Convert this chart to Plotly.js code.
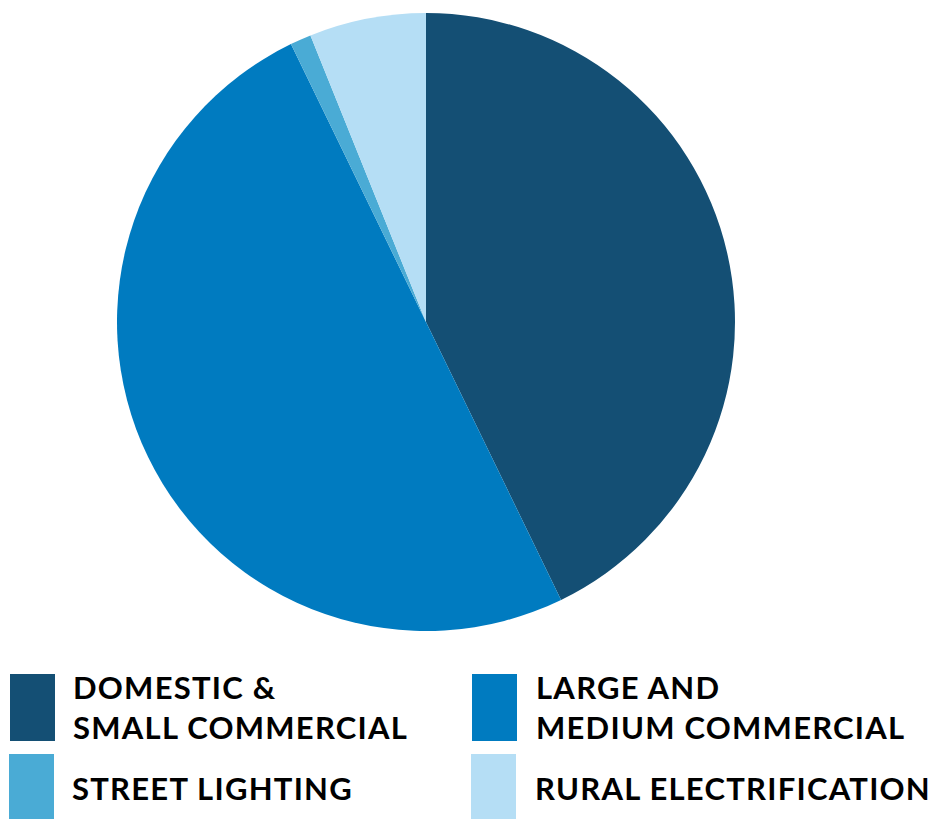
<!DOCTYPE html>
<html>
<head>
<meta charset="utf-8">
<script src="https://cdn.plot.ly/plotly-3.0.1.min.js"></script>
<style>
html,body{margin:0;padding:0;background:#fff;}
#chart{width:933px;height:819px;}
#chart .annotation-text{letter-spacing:1.25px;}
</style>
</head>
<body>
<div id="chart"></div>
<script>
// Data
const categories = ["DOMESTIC &<br>SMALL COMMERCIAL", "LARGE AND<br>MEDIUM COMMERCIAL", "STREET LIGHTING", "RURAL ELECTRIFICATION"];
const values = [42.8, 50.0, 1.1, 6.1];
const colors = ["#144f74", "#007bc0", "#4aabd5", "#b5def5"];

const W = 933, H = 819;
const px = x => x / W;
const py = y => 1 - y / H;

// Legend layout (pixels): square box and text start for each category
const legendBoxes = [
  {x0: 10, x1: 55, y0: 674, y1: 741, tx: 71, ty: 707},
  {x0: 472, x1: 517, y0: 674, y1: 741, tx: 534, ty: 707},
  {x0: 9, x1: 54, y0: 754, y1: 819, tx: 70, ty: 788},
  {x0: 471, x1: 516, y0: 754, y1: 819, tx: 533, ty: 788}
];

const shapes = legendBoxes.map((b, i) => ({
  type: 'rect', xref: 'paper', yref: 'paper',
  x0: px(b.x0), x1: px(b.x1), y0: py(b.y1), y1: py(b.y0),
  fillcolor: colors[i], line: {width: 0}
}));

const annotations = legendBoxes.map((b, i) => ({
  xref: 'paper', yref: 'paper', x: px(b.tx), y: py(b.ty),
  xanchor: 'left', yanchor: 'middle', align: 'left', showarrow: false,
  text: categories[i],
  font: {family: 'Lato', size: 31, color: '#000000', weight: 700}
}));

const cx = 426, cy = 322, r = 309;
const trace = {
  type: 'pie',
  labels: categories,
  values: values,
  marker: {colors: colors, line: {width: 0}},
  sort: false,
  direction: 'clockwise',
  rotation: 0,
  textinfo: 'none',
  hoverinfo: 'label+percent',
  showlegend: false,
  domain: {x: [px(cx - r), px(cx + r)], y: [py(cy + r), py(cy - r)]}
};

Plotly.newPlot('chart', [trace], {
  width: W, height: H,
  margin: {l: 0, r: 0, t: 0, b: 0},
  paper_bgcolor: '#ffffff',
  showlegend: false,
  shapes: shapes,
  annotations: annotations
}, {displayModeBar: false, staticPlot: true});
</script>
</body>
</html>
